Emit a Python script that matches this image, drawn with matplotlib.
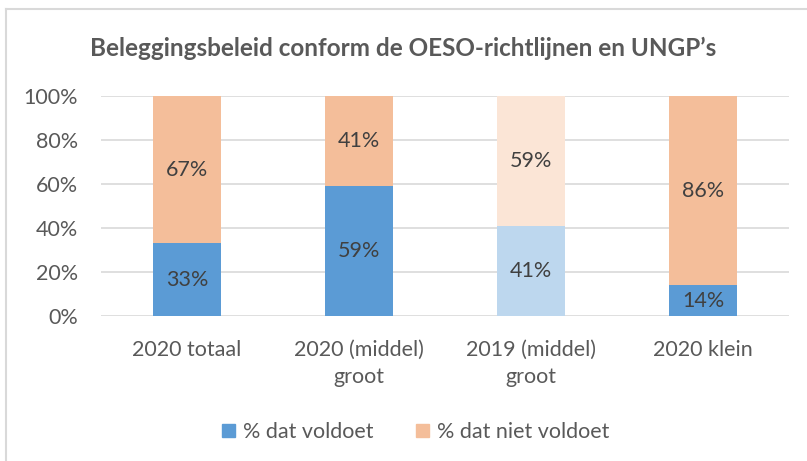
import matplotlib
matplotlib.use("Agg")
import matplotlib.pyplot as plt
from matplotlib.lines import Line2D
from matplotlib.patches import Patch

categories = ["2020 totaal", "2020 (middel)\ngroot", "2019 (middel)\ngroot", "2020 klein"]
voldoet = [33, 59, 41, 14]
niet_voldoet = [67, 41, 59, 86]
series_names = ["% dat voldoet", "% dat niet voldoet"]
title = "Beleggingsbeleid conform de OESO-richtlijnen en UNGP’s"

blue = ["#5B9BD5", "#5B9BD5", "#BDD7EE", "#5B9BD5"]
orange = ["#F4BE9A", "#F4BE9A", "#FBE5D6", "#F4BE9A"]

plt.rcParams['font.family'] = ['Lato', 'DejaVu Sans']
fs = 15.5

fig = plt.figure(figsize=(8.07, 4.61), dpi=100)
ax = fig.add_axes([101/807, 1-316/461, (789-101)/807, (316-96)/461])

x = list(range(len(categories)))
v = [a/100 for a in voldoet]
n = [a/100 for a in niet_voldoet]
ax.bar(x, v, width=0.4, color=blue, zorder=3)
ax.bar(x, n, bottom=v, width=0.4, color=orange, zorder=3)

for i in x:
    ax.text(i, v[i]/2, f"{voldoet[i]}%", ha="center", va="center", fontsize=fs, color="#404040", zorder=4)
    ax.text(i, v[i] + n[i]/2, f"{niet_voldoet[i]}%", ha="center", va="center", fontsize=fs, color="#404040", zorder=4)

ax.set_xlim(-0.5, 3.5)
ax.set_ylim(0, 1)
ax.set_yticks([0, 0.2, 0.4, 0.6, 0.8, 1.0])
ax.set_yticklabels(["0%", "20%", "40%", "60%", "80%", "100%"])
ax.set_xticks(x)
ax.set_xticklabels(categories, linespacing=1.4)
ax.tick_params(axis="both", length=0, labelsize=fs, labelcolor="#595959")
ax.tick_params(axis="y", pad=16.5)
ax.tick_params(axis="x", pad=17.5)
ax.grid(axis="y", color="#D9D9D9", linewidth=1.2, zorder=0)
for s in ax.spines.values():
    s.set_visible(False)

fig.text(0.5, 1-48/461, title, ha="center", va="center", fontsize=17.5, fontweight="bold", color="#595959")

handles = [Patch(color="#5B9BD5"), Patch(color="#F4BE9A")]
fig.legend(handles, series_names, loc="center", bbox_to_anchor=(0.515, 1-432/461), ncol=2,
           frameon=False, fontsize=fs, labelcolor="#595959", handlelength=0.6, handleheight=0.6,
           handletextpad=0.35, columnspacing=2.0)

# chart border
fig.add_artist(Line2D([6/807, 1], [1-9/461, 1-9/461], color="#D9D9D9", linewidth=1.5, transform=fig.transFigure))
fig.add_artist(Line2D([6/807, 6/807], [0, 1-9/461], color="#D9D9D9", linewidth=1.5, transform=fig.transFigure))

fig.savefig("out.png", dpi=100, facecolor="white")
